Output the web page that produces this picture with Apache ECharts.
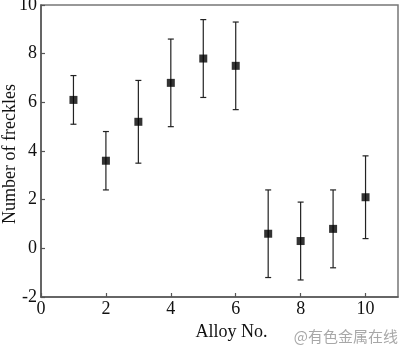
<!DOCTYPE html>
<html>
<head>
<meta charset="utf-8">
<script src="https://cdn.jsdelivr.net/npm/echarts@6/dist/echarts.min.js"></script>
<style>
  html, body { margin: 0; padding: 0; background: #fff; }
  #chart { width: 400px; height: 345px; }
</style>
</head>
<body>
<div id="chart"></div>
<script>
// Freckle counts per alloy, with lower / upper error limits
const alloys = [1, 2, 3, 4, 5, 6, 7, 8, 9, 10];
const freckles = [6.1, 3.6, 5.2, 6.8, 7.8, 7.5, 0.6, 0.3, 0.8, 2.1];
const lowerLimit = [5.1, 2.4, 3.5, 5.0, 6.2, 5.7, -1.2, -1.3, -0.8, 0.4];
const upperLimit = [7.1, 4.8, 6.9, 8.6, 9.4, 9.3, 2.4, 1.9, 2.4, 3.8];
const xTicks = [0, 2, 4, 6, 8, 10];
const yTicks = [-2, 0, 2, 4, 6, 8, 10];

const font = '"Liberation Serif", "Times New Roman", serif';
const axisColor = '#555';

const points = alloys.map((a, i) => [a, freckles[i]]);
const bars = alloys.map((a, i) => [a, lowerLimit[i], upperLimit[i]]);

const chart = echarts.init(document.getElementById('chart'), null, { renderer: 'canvas' });
chart.setOption({
  animation: false,
  backgroundColor: '#fff',
  grid: {
    left: 41, top: 5, right: 2, bottom: 48,
    outerBoundsMode: 'none', containLabel: false,
    show: true, borderColor: '#777', borderWidth: 1.5, backgroundColor: 'transparent'
  },
  xAxis: {
    type: 'value', min: 0, max: 11,
    name: 'Alloy No.', nameLocation: 'middle', nameGap: 26, nameMoveOverlap: false,
    nameTextStyle: { fontFamily: font, fontSize: 18, color: '#111', padding: [0, 0, 0, 24] },
    axisLine: { show: true, onZero: false, lineStyle: { color: axisColor, width: 1.5 } },
    axisTick: { show: true, inside: true, length: 4, customValues: xTicks, lineStyle: { color: axisColor, width: 1.2 } },
    axisLabel: { customValues: xTicks, fontFamily: font, fontSize: 18, color: '#111', margin: 3 },
    splitLine: { show: false }
  },
  yAxis: {
    type: 'value', min: -2, max: 10, interval: 2,
    name: 'Number of freckles', nameLocation: 'middle', nameGap: 22, nameMoveOverlap: false,
    nameTextStyle: { fontFamily: font, fontSize: 18, color: '#111', padding: [0, 6, 0, 0] },
    axisLine: { show: true, onZero: false, lineStyle: { color: axisColor, width: 1.5 } },
    axisTick: { show: true, inside: true, length: 4, customValues: yTicks, lineStyle: { color: axisColor, width: 1.2 } },
    axisLabel: { customValues: yTicks, fontFamily: font, fontSize: 18, color: '#111', margin: 4 },
    splitLine: { show: false }
  },
  series: [
    {
      type: 'custom',
      data: bars,
      renderItem: function (params, api) {
        const x = api.value(0);
        const lo = api.coord([x, api.value(1)]);
        const hi = api.coord([x, api.value(2)]);
        const cap = 3;
        const style = { stroke: '#222', lineWidth: 1.2 };
        return {
          type: 'group',
          children: [
            { type: 'line', shape: { x1: lo[0], y1: lo[1], x2: hi[0], y2: hi[1] }, style: style },
            { type: 'line', shape: { x1: lo[0] - cap, y1: lo[1], x2: lo[0] + cap, y2: lo[1] }, style: style },
            { type: 'line', shape: { x1: hi[0] - cap, y1: hi[1], x2: hi[0] + cap, y2: hi[1] }, style: style }
          ]
        };
      },
      z: 2
    },
    {
      type: 'scatter',
      data: points,
      symbol: 'rect',
      symbolSize: 8,
      itemStyle: { color: '#000' },
      z: 3
    }
  ],
  graphic: [
    {
      type: 'text', right: 2, bottom: 1,
      style: { text: '@有色金属在线', fontFamily: 'Noto Sans CJK SC', fontSize: 15, fill: '#a8a8a8' }
    }
  ]
});
</script>
</body>
</html>
